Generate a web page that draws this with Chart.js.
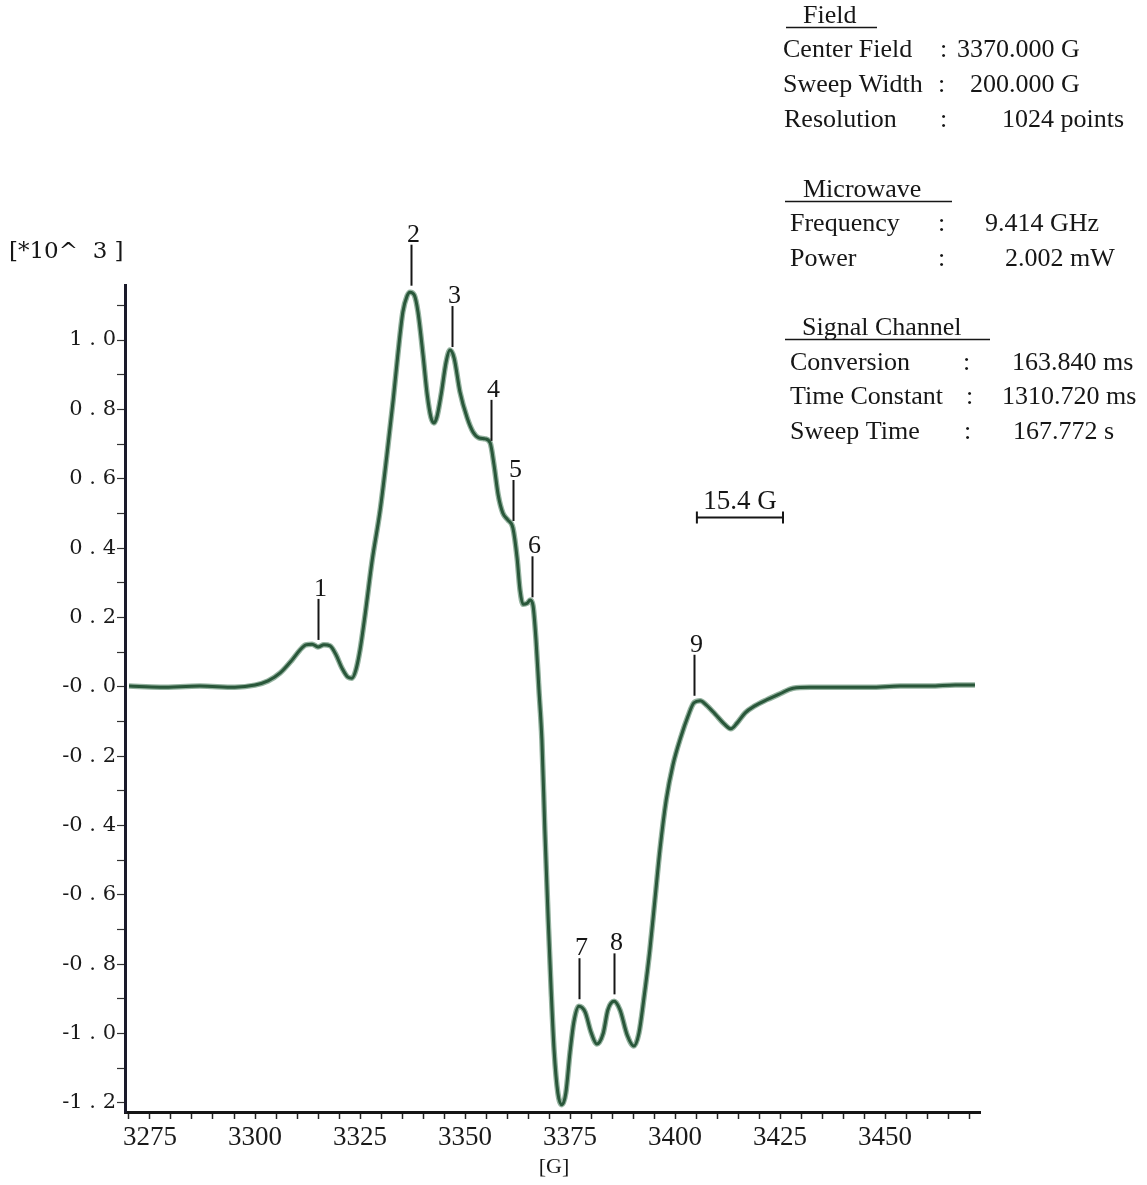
<!DOCTYPE html>
<html>
<head>
<meta charset="utf-8">
<script src="https://cdn.jsdelivr.net/npm/chart.js@4.4.1/dist/chart.umd.min.js"></script>
<style>
  html, body { margin: 0; padding: 0; background: #ffffff; }
  #wrap { width: 1147px; height: 1185px; position: relative; }
</style>
</head>
<body>
<div id="wrap"><canvas id="c" width="1147" height="1185"></canvas></div>
<script>
// ---------------- data ----------------
const fieldG = [
  3270.0, 3277.4, 3286.9, 3295.2, 3300.0, 3303.1, 3306.0, 3308.8, 3310.7, 3312.1,
  3313.6, 3315.0, 3316.4, 3317.9, 3319.3, 3320.7, 3322.1, 3323.1, 3324.0, 3325.0,
  3326.2, 3327.9, 3329.8, 3331.4, 3332.9, 3334.0, 3335.2, 3336.2, 3336.9, 3337.9,
  3338.8, 3340.0, 3341.0, 3341.9, 3342.6, 3343.3, 3344.3, 3345.5, 3346.4, 3347.4,
  3348.8, 3350.5, 3351.9, 3353.3, 3354.8, 3356.0, 3356.9, 3357.9, 3359.0, 3360.2,
  3361.4, 3362.4, 3363.1, 3363.8, 3364.8, 3365.5, 3366.2, 3366.9, 3367.6, 3368.3,
  3369.0, 3369.8, 3370.5, 3371.2, 3372.1, 3373.1, 3374.0, 3375.0, 3375.9, 3377.1,
  3378.6, 3380.0, 3381.4, 3382.9, 3384.0, 3385.5, 3386.9, 3388.6, 3390.2, 3391.4,
  3392.6, 3394.0, 3395.2, 3396.4, 3397.9, 3399.5, 3401.4, 3403.1, 3404.5, 3406.0,
  3407.4, 3409.5, 3411.7, 3413.3, 3414.8, 3416.7, 3419.0, 3421.9, 3425.0, 3428.1,
  3432.1, 3439.3, 3446.4, 3453.6, 3460.7, 3466.7, 3471.4
];
const signal = [
  0.002, -0.001, 0.002, -0.001, 0.005, 0.017, 0.040, 0.077, 0.106, 0.121,
  0.123, 0.115, 0.121, 0.118, 0.092, 0.054, 0.028, 0.025, 0.048, 0.106,
  0.207, 0.365, 0.510, 0.668, 0.827, 0.957, 1.081, 1.127, 1.138, 1.130,
  1.081, 0.957, 0.842, 0.776, 0.761, 0.778, 0.842, 0.937, 0.971, 0.948,
  0.850, 0.776, 0.735, 0.718, 0.715, 0.703, 0.640, 0.553, 0.501, 0.481,
  0.458, 0.371, 0.278, 0.238, 0.241, 0.250, 0.233, 0.135, -0.009, -0.153,
  -0.412, -0.671, -0.874, -1.047, -1.171, -1.205, -1.171, -1.053, -0.967, -0.921,
  -0.938, -0.996, -1.030, -0.999, -0.932, -0.907, -0.932, -1.004, -1.036, -0.999,
  -0.897, -0.759, -0.615, -0.470, -0.326, -0.225, -0.144, -0.084, -0.046, -0.040,
  -0.052, -0.078, -0.107, -0.121, -0.104, -0.075, -0.055, -0.037, -0.020, -0.004,
  -0.001, -0.001, -0.001, 0.002, 0.002, 0.005, 0.005
];
const xTickValues = [3275, 3300, 3325, 3350, 3375, 3400, 3425, 3450];
const yTickValues = [1.0, 0.8, 0.6, 0.4, 0.2, 0.0, -0.2, -0.4, -0.6, -0.8, -1.0, -1.2];
const yTickLabels = ['1 . 0', '0 . 8', '0 . 6', '0 . 4', '0 . 2', '-0 . 0',
                     '-0 . 2', '-0 . 4', '-0 . 6', '-0 . 8', '-1 . 0', '-1 . 2'];
const peakNames = ['1', '2', '3', '4', '5', '6', '7', '8', '9'];
const peakFieldG = [3315.0, 3337.1, 3346.9, 3356.2, 3361.4, 3366.0, 3377.1, 3385.5, 3404.5];
const scaleBarG = [3405.2, 3425.7];
const scaleBarLevel = 0.49;
const scaleBarText = '15.4 G';
const yUnitText = '[*10^  3 ]';
const xUnitText = '[G]';

const infoHeads = [
  { text: 'Field', x: 803, y: 16, ux0: 786, ux1: 877, uy: 27 },
  { text: 'Microwave', x: 803, y: 190, ux0: 785, ux1: 952, uy: 201 },
  { text: 'Signal Channel', x: 802, y: 328, ux0: 785, ux1: 990, uy: 339 }
];
const infoRows = [
  { label: 'Center Field', colon: ':', value: '3370.000 G', y: 50, lx: 783, cx: 940, vx: 957 },
  { label: 'Sweep Width', colon: ':', value: '200.000 G', y: 85, lx: 783, cx: 938, vx: 970 },
  { label: 'Resolution', colon: ':', value: '1024 points', y: 120, lx: 784, cx: 940, vx: 1002 },
  { label: 'Frequency', colon: ':', value: '9.414 GHz', y: 224, lx: 790, cx: 938, vx: 985 },
  { label: 'Power', colon: ':', value: '2.002 mW', y: 259, lx: 790, cx: 938, vx: 1005 },
  { label: 'Conversion', colon: ':', value: '163.840 ms', y: 363, lx: 790, cx: 963, vx: 1012 },
  { label: 'Time Constant', colon: ':', value: '1310.720 ms', y: 397, lx: 790, cx: 966, vx: 1002 },
  { label: 'Sweep Time', colon: ':', value: '167.772 s', y: 432, lx: 790, cx: 964, vx: 1013 }
];

// ---------------- helpers ----------------
function signalAt(g) {
  for (let i = 0; i < fieldG.length - 1; i++) {
    if (g >= fieldG[i] && g <= fieldG[i + 1]) {
      const t = (g - fieldG[i]) / (fieldG[i + 1] - fieldG[i]);
      return signal[i] + t * (signal[i + 1] - signal[i]);
    }
  }
  return 0;
}
const points = fieldG.map((g, i) => ({ x: g, y: signal[i] }));

const annotPlugin = {
  id: 'annot',
  afterDraw(chart) {
    const ctx = chart.ctx;
    const xs = chart.scales.x, ys = chart.scales.y;
    ctx.save();
    ctx.fillStyle = '#161616';
    ctx.strokeStyle = '#161616';

    // peak markers
    ctx.font = '26px "Liberation Serif"';
    ctx.textAlign = 'center';
    ctx.textBaseline = 'bottom';
    ctx.lineWidth = 2;
    peakNames.forEach((name, i) => {
      const g = peakFieldG[i];
      const px = Math.round(xs.getPixelForValue(g)) + 0.5;
      const py = ys.getPixelForValue(signalAt(g));
      const bottom = py - 7;
      const top = bottom - 41;
      ctx.beginPath();
      ctx.moveTo(px, bottom);
      ctx.lineTo(px, top);
      ctx.stroke();
      ctx.fillText(name, px + 2, top + 3);
    });

    // scale bar
    const bx0 = xs.getPixelForValue(scaleBarG[0]);
    const bx1 = xs.getPixelForValue(scaleBarG[1]);
    const by = Math.round(ys.getPixelForValue(scaleBarLevel)) + 0.5;
    ctx.lineWidth = 2;
    ctx.beginPath();
    ctx.moveTo(bx0, by); ctx.lineTo(bx1, by);
    ctx.moveTo(bx0, by - 6); ctx.lineTo(bx0, by + 6);
    ctx.moveTo(bx1, by - 6); ctx.lineTo(bx1, by + 6);
    ctx.stroke();
    ctx.font = '27px "Liberation Serif"';
    ctx.textAlign = 'center';
    ctx.textBaseline = 'alphabetic';
    ctx.fillText(scaleBarText, (bx0 + bx1) / 2, by - 9);

    // unit labels
    ctx.font = '23px "DejaVu Serif"';
    ctx.textAlign = 'left';
    ctx.textBaseline = 'middle';
    ctx.fillText(yUnitText, 9, 252);
    ctx.font = '22px "Liberation Serif"';
    ctx.textAlign = 'center';
    ctx.fillText(xUnitText, 554, 1167);

    // info block
    ctx.font = '26px "Liberation Serif"';
    ctx.textAlign = 'left';
    ctx.textBaseline = 'middle';
    ctx.lineWidth = 1.6;
    infoHeads.forEach(h => {
      ctx.fillText(h.text, h.x, h.y);
      ctx.beginPath();
      ctx.moveTo(h.ux0, h.uy + 0.5);
      ctx.lineTo(h.ux1, h.uy + 0.5);
      ctx.stroke();
    });
    infoRows.forEach(r => {
      ctx.fillText(r.label, r.lx, r.y);
      ctx.fillText(r.colon, r.cx, r.y);
      ctx.fillText(r.value, r.vx, r.y);
    });
    ctx.restore();
  }
};

new Chart(document.getElementById('c'), {
  type: 'line',
  data: {
    datasets: [
      {
        data: points,
        borderColor: 'rgba(60,115,80,0.55)',
        borderWidth: 5.5,
        pointRadius: 0,
        cubicInterpolationMode: 'monotone',
        fill: false
      },
      {
        data: points,
        borderColor: '#12351f',
        borderWidth: 3,
        pointRadius: 0,
        cubicInterpolationMode: 'monotone',
        fill: false
      }
    ]
  },
  options: {
    responsive: false,
    animation: false,
    devicePixelRatio: 1,
    layout: { padding: { top: 285, right: 167, left: 0, bottom: 0 } },
    plugins: { legend: { display: false }, tooltip: { enabled: false } },
    scales: {
      x: {
        type: 'linear',
        min: 3269.05,
        max: 3472.6,
        afterBuildTicks: (s) => {
          const t = [];
          for (let v = 3270; v <= 3470; v += 5) t.push({ value: v });
          s.ticks = t;
        },
        afterFit: (s) => { s.height = 73; },
        border: { display: true, color: '#151515', width: 3 },
        grid: { drawOnChartArea: false, drawTicks: true, tickLength: 7, color: '#222', tickWidth: 1.5 },
        ticks: {
          autoSkip: false, maxRotation: 0, minRotation: 0, padding: 3,
          color: '#1a1a1a',
          font: { family: 'Liberation Serif', size: 27 },
          callback: (v) => (xTickValues.includes(v) ? String(v) : '')
        }
      },
      y: {
        type: 'linear',
        min: -1.226,
        max: 1.1586,
        afterBuildTicks: (s) => {
          const t = [];
          for (let k = -12; k <= 11; k++) t.push({ value: k / 10 });
          s.ticks = t;
        },
        afterFit: (s) => { s.width = 125; },
        border: { display: true, color: '#1a1a2a', width: 3 },
        grid: { drawOnChartArea: false, drawTicks: true, tickLength: 8, color: '#333', tickWidth: 1.2 },
        ticks: {
          autoSkip: false, padding: 1,
          color: '#1a1a1a',
          font: { family: 'DejaVu Serif', size: 21 },
          callback: (v) => {
            const idx = yTickValues.findIndex(y => Math.abs(y - v) < 1e-6);
            return idx >= 0 ? yTickLabels[idx] : '';
          }
        }
      }
    }
  },
  plugins: [annotPlugin]
});
</script>
</body>
</html>
